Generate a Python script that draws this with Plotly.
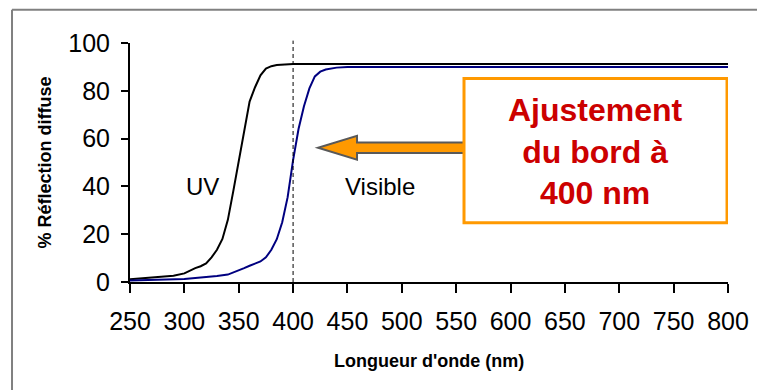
import plotly.graph_objects as go

# ---- data ----
uv_x = [250, 260, 270, 280, 290, 300, 305, 310, 315, 320, 325, 330, 335, 340, 345,
        350, 355, 360, 365, 370, 375, 380, 385, 390, 395, 400,
        450, 500, 550, 600, 650, 700, 750, 800]
uv_y = [1.2, 1.5, 1.8, 2.2, 2.6, 3.6, 4.8, 5.8, 6.6, 7.8, 10.3, 13.5, 18.0, 26.0, 38.0,
        51.0, 64.0, 75.5, 81.5, 86.5, 89.3, 90.3, 90.8, 91.0, 91.1, 91.2,
        91.2, 91.2, 91.2, 91.2, 91.2, 91.2, 91.2, 91.2]

vis_x = [250, 270, 290, 300, 310, 320, 330, 340, 345, 350, 355, 360, 365, 370, 375,
         380, 385, 390, 395, 400, 405, 410, 415, 420, 425, 430, 440, 450,
         500, 550, 600, 650, 700, 750, 800]
vis_y = [0.6, 0.8, 1.0, 1.3, 1.7, 2.0, 2.5, 3.1, 3.9, 4.8, 5.8, 6.8, 7.6, 8.6, 10.3,
         13.5, 17.9, 25.0, 35.5, 51.0, 64.0, 73.5, 81.0, 86.0, 88.0, 88.9, 89.7, 90.0,
         90.0, 90.0, 90.0, 90.0, 90.0, 90.0, 90.0]

x_ticks = [250, 300, 350, 400, 450, 500, 550, 600, 650, 700, 750, 800]
y_ticks = [0, 20, 40, 60, 80, 100]

x_title = "Longueur d'onde (nm)"
y_title = "% Réflection diffuse"
labels = ["UV", "Visible"]
label_x = [317, 480]
label_y = [40, 40]
edge_nm = 400
box_text = "Ajustement<br>du bord à<br>400 nm"

FONT = "Arial, Liberation Sans, sans-serif"

fig = go.Figure()
fig.add_trace(go.Scatter(x=uv_x, y=uv_y, mode="lines",
                         line=dict(color="#000000", width=2), showlegend=False,
                         hoverinfo="skip"))
fig.add_trace(go.Scatter(x=vis_x, y=vis_y, mode="lines",
                         line=dict(color="#000080", width=2), showlegend=False,
                         hoverinfo="skip"))

shapes = []
# outer frame: left and top edges only (the rest lies outside the picture)
shapes.append(dict(type="line", xref="paper", yref="paper", x0=-0.1973, x1=-0.1973,
                   y0=-0.7, y1=1.139, line=dict(color="#808080", width=2), layer="below"))
shapes.append(dict(type="line", xref="paper", yref="paper", x0=-0.1973, x1=1.06,
                   y0=1.139, y1=1.139, line=dict(color="#808080", width=2), layer="below"))
# dashed vertical at 400 nm
shapes.append(dict(type="line", xref="x", yref="paper", x0=edge_nm, x1=edge_nm,
                   y0=0, y1=1.01, line=dict(color="#000000", width=1, dash="4px,3px")))
# arrow
ax_tip, ax_head, ax_end, ay, a_sh, a_hd = 422.9, 458.8, 557.2, 56.2, 2.2, 5.0
path = (f"M {ax_end},{ay+a_sh} L {ax_head},{ay+a_sh} L {ax_head},{ay+a_hd} "
        f"L {ax_tip},{ay} L {ax_head},{ay-a_hd} L {ax_head},{ay-a_sh} "
        f"L {ax_end},{ay-a_sh} Z")
shapes.append(dict(type="path", xref="x", yref="y", path=path,
                   fillcolor="#FF9900", line=dict(color="#595959", width=2)))
# box
shapes.append(dict(type="rect", xref="x", yref="y", x0=557.2, x1=799.1, y0=24.8, y1=85.1,
                   fillcolor="#FFFFFF", line=dict(color="#FF9900", width=3)))

annotations = []
for t, lx, ly in zip(labels, label_x, label_y):
    annotations.append(dict(x=lx, y=ly, xref="x", yref="y", text=t, showarrow=False,
                            font=dict(family=FONT, size=24, color="#000000"),
                            xanchor="center", yanchor="middle"))
annotations.append(dict(x=678, y=54.7, xref="x", yref="y", text=box_text, showarrow=False,
                        font=dict(family=FONT, size=32, color="#CC0000", weight="bold"),
                        xanchor="center", yanchor="middle", align="center"))
annotations.append(dict(x=0.5, y=-0.329, xref="paper", yref="paper", text=x_title,
                        showarrow=False, xanchor="center", yanchor="middle",
                        font=dict(family=FONT, size=18, color="#000000", weight="bold")))
annotations.append(dict(x=-0.1438, y=0.5, xref="paper", yref="paper", text=y_title,
                        showarrow=False, xanchor="center", yanchor="middle", textangle=-90,
                        font=dict(family=FONT, size=18, color="#000000", weight="bold")))

fig.update_layout(
    width=757, height=390,
    margin=dict(l=130, r=29, t=43, b=108, autoexpand=False),
    paper_bgcolor="#FFFFFF", plot_bgcolor="#FFFFFF",
    shapes=shapes, annotations=annotations,
    font=dict(family=FONT, color="#000000"),
)
fig.update_xaxes(range=[250, 800], tickvals=x_ticks, ticks="outside", ticklen=9,
                 tickwidth=2, tickcolor="#000000", showline=True, linecolor="#000000",
                 linewidth=2, showgrid=False, zeroline=False, automargin=False,
                 tickfont=dict(family=FONT, size=25, color="#000000"),
                 ticklabelstandoff=7)
fig.update_yaxes(range=[0, 100], tickvals=y_ticks, ticks="outside", ticklen=7,
                 tickwidth=2, tickcolor="#000000", showline=True, linecolor="#000000",
                 linewidth=2, showgrid=False, zeroline=False, automargin=False,
                 tickfont=dict(family=FONT, size=25, color="#000000"),
                 ticklabelstandoff=6)

fig.write_html("out.html", config={"displayModeBar": False, "responsive": False},
               post_script=("document.body.style.margin='0';"
                            "document.body.style.overflow='hidden';"
                            "document.documentElement.style.overflow='hidden';"))
